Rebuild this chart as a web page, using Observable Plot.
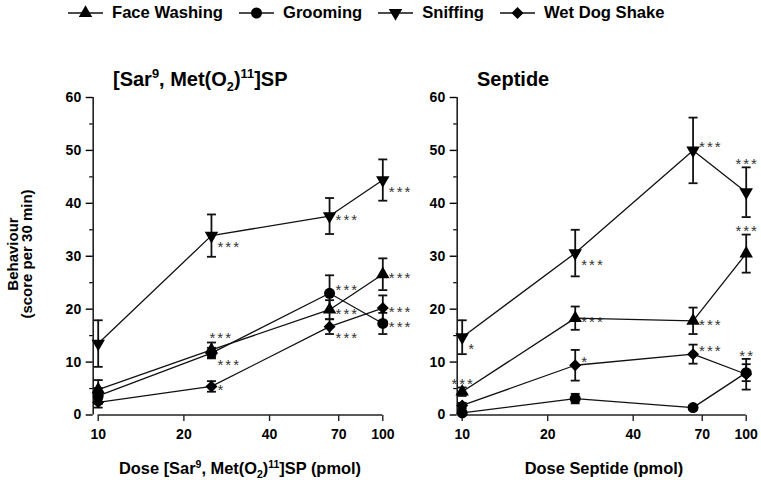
<!DOCTYPE html>
<html>
<head>
<meta charset="utf-8">
<script src="https://cdn.jsdelivr.net/npm/d3@7"></script>
<script src="https://cdn.jsdelivr.net/npm/@observablehq/plot@0.6"></script>
<style>
  body { margin: 0; background: #fff; }
  #chart { position: relative; width: 761px; height: 480px; overflow: hidden; background: #fff;
           font-family: "Liberation Sans", Arial, sans-serif; color: #000; }
  .abs { position: absolute; white-space: nowrap; }
  .ptitle { font-weight: bold; font-size: 20px; line-height: 1; }
  .xlab { font-weight: bold; font-size: 16.4px; line-height: 1; transform: translateX(-50%); }
  .ylab { font-weight: bold; font-size: 15px; line-height: 14px; text-align: center;
          transform: translate(-50%, -50%) rotate(-90deg); }
  sup, sub { font-size: 64%; line-height: 0; }
  #legend { left: 68px; top: 4px; display: flex; align-items: center; gap: 16px;
            font-weight: bold; font-size: 16.6px; line-height: 18px; }
  #legend .item { display: flex; align-items: center; gap: 9px; }
  #legend svg { display: block; }
  .stars text { letter-spacing: 2px; }
</style>
</head>
<body>
<div id="chart">
  <div id="legend" class="abs"></div>
  <div id="left" class="abs" style="left:0;top:60px;width:430px;height:420px"></div>
  <div id="right" class="abs" style="left:415px;top:60px;width:346px;height:420px"></div>
  <div class="abs ptitle" style="left:113px;top:69px">[Sar<sup>9</sup>, Met(O<sub>2</sub>)<sup>11</sup>]SP</div>
  <div class="abs ptitle" style="left:477px;top:69px">Septide</div>
  <div class="abs xlab" style="left:240px;top:460px">Dose [Sar<sup>9</sup>, Met(O<sub>2</sub>)<sup>11</sup>]SP (pmol)</div>
  <div class="abs xlab" style="left:604px;top:460px">Dose Septide (pmol)</div>
  <div class="abs ylab" style="left:20px;top:254px">Behaviour<br>(score per 30 min)</div>
</div>
<script>
// ---------- data ----------
const doses = [10, 25, 65, 100];
const seriesNames = ["Face Washing", "Grooming", "Sniffing", "Wet Dog Shake"];
const xTicks = [10, 20, 40, 70, 100];
const yTicks = [0, 10, 20, 30, 40, 50, 60];
const yMinorTicks = [5, 15, 25, 35, 45, 55];

// [Sar9, Met(O2)11]SP panel: means and SEM
const sarFaceWashing = [4.8, 12.3, 19.9, 26.6];
const sarFaceWashingSem = [1.8, 1.4, 1.8, 3.0];
const sarGrooming = [3.6, 11.7, 23.0, 17.3];
const sarGroomingSem = [1.5, 1.0, 3.4, 2.0];
const sarSniffing = [13.5, 33.9, 37.6, 44.4];
const sarSniffingSem = [4.4, 4.0, 3.4, 3.9];
const sarWetDogShake = [2.4, 5.4, 16.7, 20.2];
const sarWetDogShakeSem = [1.0, 1.0, 1.4, 2.4];

// Septide panel: means and SEM
const sepFaceWashing = [4.4, 18.3, 17.8, 30.5];
const sepFaceWashingSem = [0.8, 2.2, 2.5, 3.6];
const sepGrooming = [0.4, 3.1, 1.4, 8.0];
const sepGroomingSem = [0.3, 0.9, 0.4, 1.6];
const sepSniffing = [14.7, 30.6, 50.0, 42.1];
const sepSniffingSem = [3.2, 4.4, 6.2, 4.7];
const sepWetDogShake = [1.8, 9.4, 11.5, 7.7];
const sepWetDogShakeSem = [0.5, 2.9, 1.8, 2.9];

// significance labels: [series, dose, label, placement]
const sarStars = [
  ["Sniffing", 25, "***", "dr"], ["Sniffing", 65, "***", "r"], ["Sniffing", 100, "***", "dr"],
  ["Face Washing", 25, "***", "topr"], ["Grooming", 25, "***", "dr"], ["Wet Dog Shake", 25, "*", "r"],
  ["Grooming", 65, "***", "ur"], ["Face Washing", 65, "***", "r"], ["Wet Dog Shake", 65, "***", "dr"],
  ["Face Washing", 100, "***", "r"], ["Wet Dog Shake", 100, "***", "r"], ["Grooming", 100, "***", "r"]
];
const sepStars = [
  ["Sniffing", 10, "*", "dr"], ["Sniffing", 25, "***", "dr"], ["Sniffing", 65, "***", "ur"], ["Sniffing", 100, "***", "top"],
  ["Face Washing", 10, "***", "top"], ["Face Washing", 25, "***", "r"], ["Face Washing", 65, "***", "r"], ["Face Washing", 100, "***", "top"],
  ["Wet Dog Shake", 25, "*", "ur"], ["Wet Dog Shake", 65, "***", "ur"], ["Wet Dog Shake", 100, "**", "top"]
];

// ---------- drawing ----------
const symbolRange = ["triangle", "circle", "triangle", "diamond2"];
const capSymbol = {draw(context) { context.moveTo(-4.5, 0); context.lineTo(4.5, 0); }};
const tickSymbol = {draw(context) { context.moveTo(0, 0); context.lineTo(0, 6); }};
const placements = {
  r: {dx: 6, dy: 4, textAnchor: "start"},
  ur: {dx: 6, dy: -3, textAnchor: "start"},
  dr: {dx: 6, dy: 12, textAnchor: "start"},
  top: {dx: 1, dy: -3, textAnchor: "middle"},
  topr: {dx: -2, dy: -4, textAnchor: "start"}
};

function buildRows(list) {
  return list.flatMap(([name, means, sems]) =>
    means.map((m, i) => ({series: name, dose: doses[i], mean: m, sem: sems[i]})));
}

function panel(rows, stars, width, marginLeft, marginRight) {
  const starRows = stars.map(([series, dose, label, pos]) => {
    const r = rows.find(d => d.series === series && d.dose === dose);
    return {dose, label, pos, y: pos.startsWith("top") ? r.mean + r.sem : r.mean};
  });
  const starMarks = Object.entries(placements).map(([pos, p]) =>
    Plot.text(starRows.filter(d => d.pos === pos), {
      x: "dose", y: "y", text: "label", dx: p.dx, dy: p.dy, textAnchor: p.textAnchor,
      lineAnchor: "middle", fontSize: 15, fontWeight: "normal", fill: "#333", className: "stars"
    }));
  const shape = s => symbolRange[seriesNames.indexOf(s)];
  return Plot.plot({
    width, height: 420,
    marginLeft, marginRight, marginTop: 37, marginBottom: 65.5,
    x: {type: "log", domain: [10, 100], axis: null},
    y: {domain: [0, 60]},
    symbol: {domain: seriesNames, range: symbolRange},
    style: {fontFamily: "Liberation Sans, Arial, sans-serif", fontSize: "14px", fontWeight: "bold", background: "transparent", color: "#000"},
    marks: [
      Plot.ruleY([0], {x1: 10, x2: 100, stroke: "#222", strokeWidth: 1.6}),
      Plot.ruleX([10], {y1: 0, y2: 60, dx: -5, stroke: "#222", strokeWidth: 1.6}),
      Plot.axisY(yTicks, {tickSize: 7, tickPadding: 5, dx: -5, strokeWidth: 1.4, fontSize: 14, label: null}),
      Plot.axisY(yMinorTicks, {tickSize: 3.5, dx: -5, strokeWidth: 1.2, tickFormat: () => "", label: null}),
      Plot.dot(xTicks, {x: d => d, y: 0, symbol: tickSymbol, fill: "none", stroke: "#222", strokeWidth: 1.4}),
      Plot.text(xTicks, {x: d => d, y: 0, text: d => String(d), lineAnchor: "top", dy: 14, fontSize: 14}),
      Plot.line(rows, {x: "dose", y: "mean", z: "series", stroke: "#111", strokeWidth: 1.3}),
      Plot.ruleX(rows, {x: "dose", y1: d => d.mean - d.sem, y2: d => d.mean + d.sem, stroke: "#111", strokeWidth: 1.8}),
      Plot.dot(rows, {x: "dose", y: d => d.mean - d.sem, symbol: capSymbol, fill: "none", stroke: "#111", strokeWidth: 1.8}),
      Plot.dot(rows, {x: "dose", y: d => d.mean + d.sem, symbol: capSymbol, fill: "none", stroke: "#111", strokeWidth: 1.8}),
      Plot.dot(rows.filter(d => shape(d.series) === "triangle"), {x: "dose", y: "mean", symbol: "series",
        rotate: d => d.series === "Sniffing" ? 180 : 0, r: 5, fill: "#000", stroke: "none"}),
      Plot.dot(rows.filter(d => shape(d.series) === "circle"), {x: "dose", y: "mean", symbol: "series", r: 5.5, fill: "#000", stroke: "none"}),
      Plot.dot(rows.filter(d => shape(d.series) === "diamond2"), {x: "dose", y: "mean", symbol: "series", r: 5.4, fill: "#000", stroke: "none"}),
      ...starMarks
    ]
  });
}

const sarRows = buildRows([
  ["Face Washing", sarFaceWashing, sarFaceWashingSem],
  ["Grooming", sarGrooming, sarGroomingSem],
  ["Sniffing", sarSniffing, sarSniffingSem],
  ["Wet Dog Shake", sarWetDogShake, sarWetDogShakeSem]
]);
const sepRows = buildRows([
  ["Face Washing", sepFaceWashing, sepFaceWashingSem],
  ["Grooming", sepGrooming, sepGroomingSem],
  ["Sniffing", sepSniffing, sepSniffingSem],
  ["Wet Dog Shake", sepWetDogShake, sepWetDogShakeSem]
]);

document.getElementById("left").append(panel(sarRows, sarStars, 430, 97.7, 47.7));
document.getElementById("right").append(panel(sepRows, sepStars, 346, 46.7, 15.3));

// legend
const legend = document.getElementById("legend");
seriesNames.forEach((name, i) => {
  const item = document.createElement("div");
  item.className = "item";
  const sizeR = symbolRange[i] === "circle" ? 5.5 : symbolRange[i] === "triangle" ? 5 : 5.4;
  const svg = d3.create("svg").attr("width", 35).attr("height", 16);
  svg.append("line").attr("x1", 0).attr("x2", 35).attr("y1", 8).attr("y2", 8).attr("stroke", "#111").attr("stroke-width", 1.4);
  const sym = {triangle: d3.symbolTriangle, circle: d3.symbolCircle, diamond2: d3.symbolDiamond2}[symbolRange[i]];
  svg.append("path").attr("d", d3.symbol(sym, Math.PI * sizeR * sizeR)())
    .attr("transform", `translate(17.5,8) rotate(${name === "Sniffing" ? 180 : 0})`).attr("fill", "#000");
  item.append(svg.node());
  const t = document.createElement("span");
  t.textContent = name;
  item.append(t);
  legend.append(item);
});
</script>
</body>
</html>
